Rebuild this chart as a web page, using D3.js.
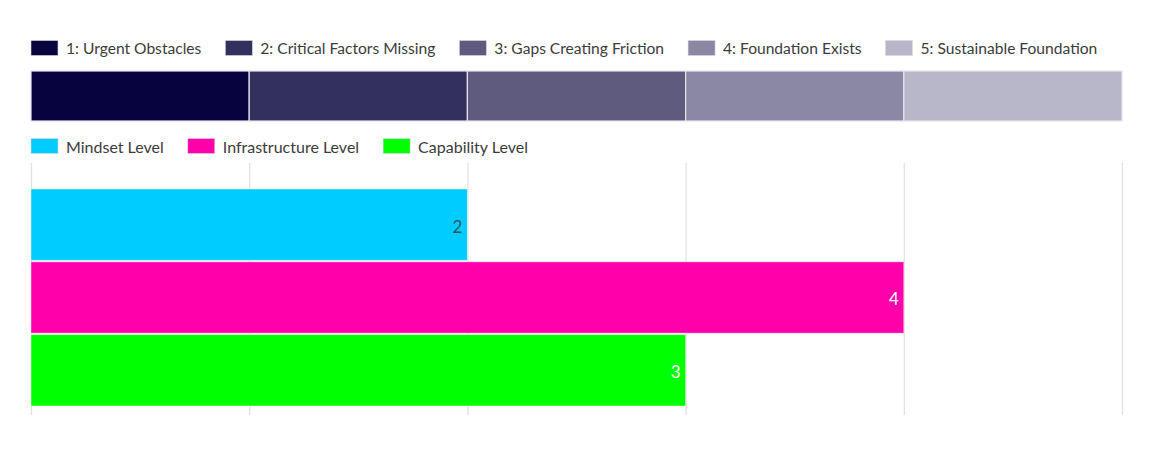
<!DOCTYPE html>
<html>
<head>
<meta charset="utf-8">
<script src="https://cdn.jsdelivr.net/npm/d3@7"></script>
<style>
  body { margin: 0; background: #fff; }
  text { font-family: "Lato", "Open Sans", sans-serif; }
</style>
</head>
<body>
<svg id="chart" width="1166" height="452"></svg>
<script>
// maturity levels (top band)
var levelLabels = ["1: Urgent Obstacles", "2: Critical Factors Missing", "3: Gaps Creating Friction", "4: Foundation Exists", "5: Sustainable Foundation"];
var levelColors = ["#06033f", "#33305e", "#5e5b7f", "#8a88a2", "#b8b6c9"];

// series (bottom bars)
var seriesNames = ["Mindset Level", "Infrastructure Level", "Capability Level"];
var seriesValues = [2, 4, 3];
var seriesColors = ["#00ccff", "#ff00aa", "#00ff00"];

var xTicks = [0, 1, 2, 3, 4, 5];

var svg = d3.select("#chart");

var xScale = d3.scaleLinear()
    .domain([0, 5])
    .range([31, 1122]);

var yScale = d3.scaleBand()
    .domain(seriesNames)
    .range([189, 406])
    .paddingInner(0.02);

// legend helper
function legend(g, names, colors, y, size) {
  var x = 31;
  names.forEach(function(name, i) {
    g.append("rect")
      .attr("x", x).attr("y", y - 7.5)
      .attr("width", 27).attr("height", 15)
      .attr("fill", colors[i])
      .attr("stroke", "#d8d6e2").attr("stroke-width", 0.6);
    var t = g.append("text")
      .attr("x", x + 35).attr("y", y + 1)
      .attr("dy", "0.35em")
      .attr("font-size", size)
      .attr("fill", "#3c3c3c")
      .text(name);
    x += 35 + t.node().getComputedTextLength() + 24;
  });
}

legend(svg.append("g"), levelLabels, levelColors, 48, 15.6);

// level band
svg.append("g").selectAll("rect")
    .data(levelLabels)
  .enter().append("rect")
    .attr("x", function(d, i) { return xScale(i); })
    .attr("y", 71)
    .attr("width", function(d, i) { return xScale(i + 1) - xScale(i); })
    .attr("height", 50)
    .attr("fill", function(d, i) { return levelColors[i]; })
    .attr("stroke", "#e6e4ee")
    .attr("stroke-width", 1.2);

legend(svg.append("g"), seriesNames, seriesColors, 146, 16);

// grid
svg.append("g")
    .attr("transform", "translate(0,415)")
    .call(d3.axisBottom(xScale).tickValues(xTicks).tickSize(-252).tickFormat(""))
    .call(function(g) { g.select(".domain").remove(); })
    .call(function(g) { g.selectAll(".tick line").attr("stroke", "#e2e2e2").attr("stroke-width", 1.3); });

// bars
svg.append("g").selectAll("rect")
    .data(seriesValues)
  .enter().append("rect")
    .attr("x", xScale(0))
    .attr("y", function(d, i) { return yScale(seriesNames[i]); })
    .attr("width", function(d) { return xScale(d) - xScale(0); })
    .attr("height", yScale.bandwidth())
    .attr("fill", function(d, i) { return seriesColors[i]; })
    .attr("stroke", "rgba(255,255,255,0.45)")
    .attr("stroke-width", 1);

svg.append("g").selectAll("text")
    .data(seriesValues)
  .enter().append("text")
    .attr("x", function(d) { return xScale(d) - 5; })
    .attr("y", function(d, i) { return yScale(seriesNames[i]) + yScale.bandwidth() / 2 + 2; })
    .attr("dy", "0.35em")
    .attr("text-anchor", "end")
    .attr("font-size", 17)
    .attr("fill", function(d, i) { return i === 0 ? "#2e5566" : "#ffffff"; })
    .text(function(d) { return d; });
</script>
</body>
</html>
